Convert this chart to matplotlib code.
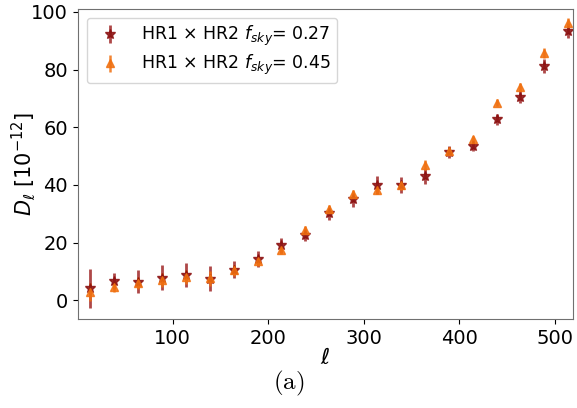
import numpy as np
import matplotlib
matplotlib.use('Agg')
from matplotlib import pyplot as plt

# multipole bins
ell = [14, 39, 64, 89, 114, 139, 164, 189, 214, 239, 264,
       289, 314, 339, 364, 389, 414, 439, 464, 489, 514]

# HR1 x HR2, fsky = 0.27
dl_027 = [4.1, 6.7, 6.4, 7.9, 8.7, 7.5, 10.6, 14.3, 19.1, 22.6, 30.1,
          35.0, 39.9, 39.9, 43.0, 51.5, 53.6, 62.7, 70.6, 81.2, 93.5]
err_027 = [6.6, 2.9, 4.0, 4.3, 4.2, 4.3, 3.0, 2.8, 2.6, 2.2, 2.3,
           2.5, 3.1, 2.8, 2.6, 2.0, 1.9, 1.9, 2.2, 2.4, 2.6]

# HR1 x HR2, fsky = 0.45
dl_045 = [2.9, 4.6, 6.0, 6.9, 8.1, 7.6, 10.4, 13.6, 17.4, 24.3, 31.5,
          36.8, 38.4, 39.9, 46.9, 51.7, 55.8, 68.5, 73.8, 85.7, 96.3]
err_045 = [3.2, 1.6, 2.2, 2.4, 2.4, 2.5, 1.8, 1.6, 1.5, 1.4, 1.5,
           1.6, 1.7, 1.6, 1.6, 1.3, 1.3, 1.3, 1.4, 1.6, 1.7]

plt.rcParams['mathtext.fontset'] = 'dejavusans'

fig = plt.figure(figsize=(5.77, 4.08), dpi=100)
ax = fig.add_axes([0.135, 0.218, 0.858, 0.76])

ax.errorbar(ell, dl_027, yerr=err_027, fmt='*', color='#8b1010', ms=7,
            ecolor='#a02828', elinewidth=2, alpha=0.85,
            label=r'HR1 $\times$ HR2 $f_{sky}$= 0.27')
ax.errorbar(ell, dl_045, yerr=err_045, fmt='^', color='#f07010', ms=6,
            ecolor='#f07010', elinewidth=1.8, alpha=0.85,
            label=r'HR1 $\times$ HR2 $f_{sky}$= 0.45')

ax.set_xlim(1, 519)
ax.set_ylim(-6.5, 101)
ax.set_xticks([100, 200, 300, 400, 500])
ax.set_yticks([0, 20, 40, 60, 80, 100])
ax.tick_params(labelsize=14)
for s in ax.spines.values():
    s.set_color('#707070')

ax.set_xlabel(r'$\ell$', fontsize=16, labelpad=0)
ax.set_ylabel(r'$D_\ell$ [$10^{-12}$]', fontsize=15)
ax.yaxis.set_label_coords(-0.08, 0.5)
ax.legend(loc='upper left', fontsize=12.5, handletextpad=0.8,
          borderpad=0.35, labelspacing=0.3)

fig.text(0.5, 0.06, r'$\mathrm{(a)}$', ha='center', va='center',
         fontsize=18, math_fontfamily='cm')

fig.savefig('out.png', dpi=100)
